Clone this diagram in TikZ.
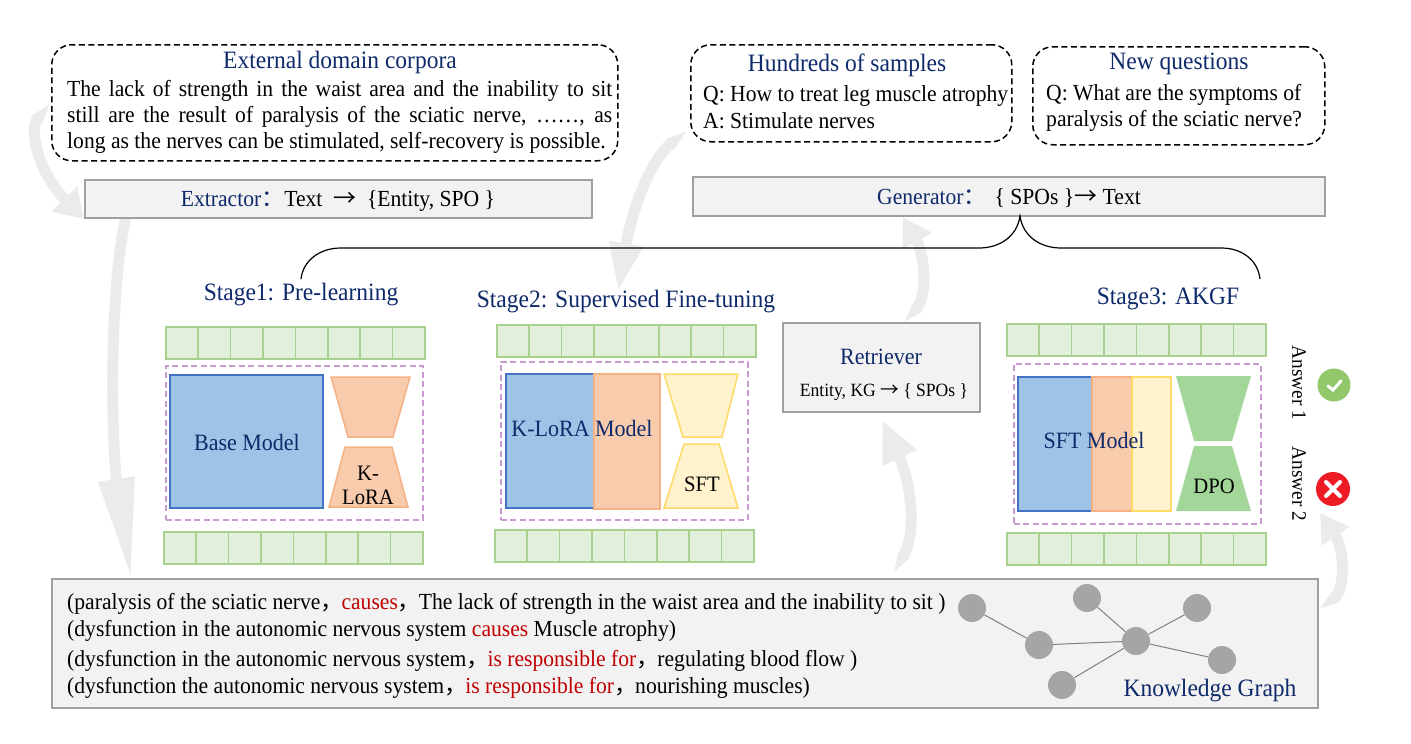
\documentclass[tikz,border=0pt]{standalone}
\usepackage{fontspec}
\setmainfont{Liberation Serif}[FakeStretch=0.94]
\newfontfamily\cjk{Noto Sans CJK SC}
\usepackage{xcolor}
\usepackage{tikz}
\usetikzlibrary{arrows.meta,positioning,backgrounds}
\definecolor{akgblue}{HTML}{0F2A6B}
\definecolor{akgred}{HTML}{C00000}
\definecolor{akggray}{HTML}{F2F2F2}
\definecolor{akgedge}{HTML}{A0A0A0}
\definecolor{akgarrow}{HTML}{EBEBEB}
\definecolor{tokenfill}{HTML}{E2EFDA}
\definecolor{tokenedge}{HTML}{A9D18E}
\definecolor{basefill}{HTML}{9DC3E6}
\definecolor{baseedge}{HTML}{4472C4}
\definecolor{lorafill}{HTML}{F8CBAD}
\definecolor{loraedge}{HTML}{F4B183}
\definecolor{sftfill}{HTML}{FFF2CC}
\definecolor{sftedge}{HTML}{FFD966}
\definecolor{dpofill}{HTML}{A2D799}
\definecolor{dashpurple}{HTML}{C99BD0}
\definecolor{okgreen}{HTML}{92C76A}
\definecolor{badred}{HTML}{ED1C24}
\newcommand{\txt}{\fontsize{23}{26}\selectfont}
\newcommand{\zhcomma}{{\cjk ，}\hspace{-2pt}}
\newcommand{\tokenrow}[3]{\foreach \i in {0,...,7} \node[tokencell] (#3\i) at (#1+\i*32.4,#2) {};}
\begin{document}
\begin{tikzpicture}[x=1pt,y=-1pt,
  dashbox/.style={draw,dash pattern=on 6pt off 3.5pt,line width=1.5pt,rounded corners=20pt,anchor=north west,inner sep=0pt},
  graybox/.style={draw=akgedge,fill=akggray,line width=2pt,anchor=north west,inner sep=0pt},
  title/.style={text=akgblue,font=\fontsize{25}{28}\selectfont,inner sep=0pt},
  modellabel/.style={text=akgblue,font=\fontsize{23.4}{26}\selectfont,inner sep=0pt},
  body/.style={font=\txt,inner sep=0pt,anchor=west},
  inlabel/.style={font=\fontsize{22}{24}\selectfont,inner sep=0pt,align=center},
  tokencell/.style={draw=tokenedge,fill=tokenfill,line width=1.5pt,anchor=north west,minimum width=32.4pt,minimum height=32pt,inner sep=0pt},
  frame/.style={draw=dashpurple,dash pattern=on 6pt off 3.5pt,line width=1.5pt,anchor=north west,inner sep=0pt},
  block/.style={line width=1.5pt,anchor=north west,inner sep=0pt},
  kgnode/.style={circle,fill=akgedge!95,minimum size=28pt,inner sep=0pt},
  kgedge/.style={draw=gray,line width=1pt},
  bigarrow/.style 2 args={draw=akgarrow,line width=11pt,arrows={Triangle[width=11pt,length=22pt]}-{Triangle[length=#1,width=#2]}}]
  \useasboundingbox (1,1) rectangle (1412,745);

  % top boxes
  \node[dashbox,minimum width=566pt,minimum height=116pt] (corpora) at (52,45) {};
  \node[title] (corporatitle) at (341,63) {External domain corpora};
  \node[body,text width=545pt,align=justify] (corporatext) at (68,118) {The lack of strength in the waist area and the inability to sit\linebreak still are the result of paralysis of the sciatic nerve, ……, as\linebreak long as the nerves can be stimulated, self-recovery is possible.};
  \node[dashbox,minimum width=321pt,minimum height=97pt] (samples) at (691,45) {};
  \node[title] (samplestitle) at (848,66) {Hundreds of samples};
  \node[body] (sampleq) at (704,97) {Q: How to treat leg muscle atrophy};
  \node[body] (samplea) at (704,122) {A: Stimulate nerves};
  \node[dashbox,minimum width=292pt,minimum height=98pt] (newq) at (1033,47) {};
  \node[title] (newqtitle) at (1180,65) {New questions};
  \node[body,align=left] (newqtext) at (1047,109) {Q: What are the symptoms of\\paralysis of the sciatic nerve?};

  % extractor, generator, retriever
  \node[graybox,minimum width=507pt,minimum height=38pt] (extractor) at (85,180) {};
  \node[font=\txt,inner sep=0pt] (extractortext) at (339,202) {\textcolor{akgblue}{Extractor{\cjk ：}}Text\ \ {\cjk →}\ \ \{Entity, SPO \}};
  \node[graybox,minimum width=632pt,minimum height=39pt] (generator) at (693,177) {};
  \node[font=\txt,inner sep=0pt] (generatortext) at (1010,199) {\textcolor{akgblue}{Generator{\cjk ：}}\hspace{8pt}\{ SPOs \}{\cjk →} Text};
  \node[graybox,minimum width=197pt,minimum height=89pt] (retriever) at (783,323) {};
  \node[modellabel] (retrievertitle) at (882,358) {Retriever};
  \node[font=\fontsize{18.7}{20}\selectfont,inner sep=0pt] (retrievertext) at (885,393) {Entity, KG {\cjk →} \{ SPOs \}};

  % stages
  \node[title] (stage1) at (302,296) {Stage1: Pre-learning};
  \node[title] (stage2) at (627,303) {Stage2: Supervised Fine-tuning};
  \node[title] (stage3) at (1169,300) {Stage3: AKGF};
  \coordinate (stage3end) at (1261,280);
  \coordinate (stage1end) at (302,280);
  \coordinate (bracepeak) at (1021,217);
  \draw[line width=1.2pt] (stage1end) .. controls (304,262) and (320,249) .. (342,249) -- (980,249) .. controls (1000,249) and (1018,238) .. (bracepeak) .. controls (1024,238) and (1042,249) .. (1062,249) -- (1222,249) .. controls (1244,249) and (1259,262) .. (stage3end);

  % first model
  \tokenrow{166}{327}{ra}
  \node[frame,minimum width=257pt,minimum height=154pt] (frame1) at (166,366) {};
  \node[block,draw=baseedge,fill=basefill,minimum width=153pt,minimum height=133pt] (basemodel) at (170,375) {};
  \node[modellabel] (basetext) at (248,443) {Base Model};
  \filldraw[draw=loraedge,fill=lorafill,line width=1.5pt] (332,378) -- (411,378) -- (394,438) -- (349,438) -- cycle;
  \filldraw[draw=loraedge,fill=lorafill,line width=1.5pt] (346,448) -- (393,448) -- (409,508) -- (330,508) -- cycle;
  \node[inlabel] (loratext) at (369,486) {K-\\LoRA};
  \tokenrow{164}{532}{rb}

  % second model
  \tokenrow{497}{325}{rc}
  \node[frame,minimum width=247pt,minimum height=158pt] (frame2) at (501,362) {};
  \node[block,draw=baseedge,fill=basefill,minimum width=88pt,minimum height=134pt] (lorablue) at (506,374) {};
  \node[block,draw=loraedge,fill=lorafill,minimum width=66pt,minimum height=135pt] (loraorange) at (594,374) {};
  \node[modellabel] (loramodeltext) at (583,429) {K-LoRA Model};
  \filldraw[draw=sftedge,fill=sftfill,line width=1.5pt] (665,375) -- (739,375) -- (723,438) -- (684,438) -- cycle;
  \filldraw[draw=sftedge,fill=sftfill,line width=1.5pt] (685,445) -- (720,445) -- (739,509) -- (665,509) -- cycle;
  \node[inlabel] (sfttext) at (703,485) {SFT};
  \tokenrow{495}{530}{rd}

  % third model
  \tokenrow{1007}{324}{re}
  \node[frame,minimum width=247pt,minimum height=160pt] (frame3) at (1014,364) {};
  \node[block,draw=baseedge,fill=basefill,minimum width=74pt,minimum height=134pt] (sftblue) at (1018,377) {};
  \node[block,draw=loraedge,fill=lorafill,minimum width=40pt,minimum height=134pt] (sftorange) at (1092,377) {};
  \node[block,draw=sftedge,fill=sftfill,minimum width=39pt,minimum height=134pt] (sftyellow) at (1132,377) {};
  \node[modellabel] (sftmodeltext) at (1095,441) {SFT Model};
  \fill[dpofill] (1177,377) -- (1252,377) -- (1233,442) -- (1195,442) -- cycle;
  \fill[dpofill] (1195,447) -- (1233,447) -- (1252,512) -- (1177,512) -- cycle;
  \node[inlabel] (dpotext) at (1215,487) {DPO};
  \tokenrow{1007}{533}{rf}

  % answers
  \node[font=\fontsize{20.5}{24}\selectfont,rotate=-90,inner sep=0pt] (answer1) at (1300,384) {Answer 1};
  \node[font=\fontsize{20.5}{24}\selectfont,rotate=-90,inner sep=0pt] (answer2) at (1300,485) {Answer 2};
  \node[circle,fill=okgreen,minimum size=33pt,inner sep=0pt] (okicon) at (1335,386) {};
  \node[circle,fill=badred,minimum size=34pt,inner sep=0pt] (badicon) at (1334,490) {};
  \draw[white,line width=3pt,line cap=round] (1329,387) -- (1334,391) -- (1342,382);
  \draw[white,line width=4pt,line cap=round] (1327,483) -- (1341,497) (1341,483) -- (1327,497);

  % triples and graph
  \node[graybox,minimum width=1266pt,minimum height=129pt] (triples) at (52,579) {};
  \node[body] (triple1) at (68,605) {(paralysis of the sciatic nerve\zhcomma\textcolor{akgred}{causes}\zhcomma The lack of strength in the waist area and the inability to sit )};
  \node[body] (triple2) at (68,632) {(dysfunction in the autonomic nervous system \textcolor{akgred}{causes} Muscle atrophy)};
  \node[body] (triple3) at (68,662) {(dysfunction in the autonomic nervous system\zhcomma\textcolor{akgred}{is responsible for}\zhcomma regulating blood flow )};
  \node[body] (triple4) at (68,689) {(dysfunction the autonomic nervous system\zhcomma\textcolor{akgred}{is responsible for}\zhcomma nourishing muscles)};
  \node[kgnode] (kga) at (973,609) {};
  \node[kgnode] (kgb) at (1088,599) {};
  \node[kgnode] (kgc) at (1198,609) {};
  \node[kgnode] (kgd) at (1040,646) {};
  \node[kgnode] (kghub) at (1137,642) {};
  \node[kgnode] (kge) at (1223,661) {};
  \node[kgnode] (kgf) at (1063,686) {};
  \draw[kgedge] (kga)--(kgd); \draw[kgedge] (kgd)--(kghub); \draw[kgedge] (kgb)--(kghub);
  \draw[kgedge] (kgc)--(kghub); \draw[kgedge] (kge)--(kghub); \draw[kgedge] (kgf)--(kghub);
  \node[title] (kgtitle) at (1211,692) {Knowledge Graph};

  % big gray arrows
  \coordinate (extractorout) at (127,216);
  \coordinate (triplesin) at (132,579);
  \coordinate (samplesout) at (689,131);
  \coordinate (stage2in) at (619,292);
  \coordinate (retrieverout) at (904,325);
  \coordinate (generatorin) at (904,218);
  \coordinate (triplesout) at (894,575);
  \coordinate (retrieverin) at (883,421);
  \coordinate (triplesright) at (1319,611);
  \coordinate (answerin) at (1321,514);
  \begin{scope}[on background layer]
    \draw[bigarrow={28pt}{34pt}] (corpora.west) .. controls (30,130) and (38,172) .. (extractor.south west);
    \draw[bigarrow={100pt}{34pt},arrows=-{Triangle[length=100pt,width=34pt]}] (extractorout) .. controls (109,300) and (113,450) .. (triplesin);
    \draw[bigarrow={48pt}{32pt}] (samplesout) .. controls (651,161) and (633,211) .. (stage2in);
    \draw[bigarrow={28pt}{32pt}] (retrieverout) .. controls (929,296) and (926,256) .. (generatorin);
    \draw[bigarrow={42pt}{35pt}] (triplesout) .. controls (919,531) and (911,481) .. (retrieverin);
    \draw[bigarrow={28pt}{32pt}] (triplesright) .. controls (1346,591) and (1346,551) .. (answerin);
  \end{scope}
\end{tikzpicture}
\end{document}
